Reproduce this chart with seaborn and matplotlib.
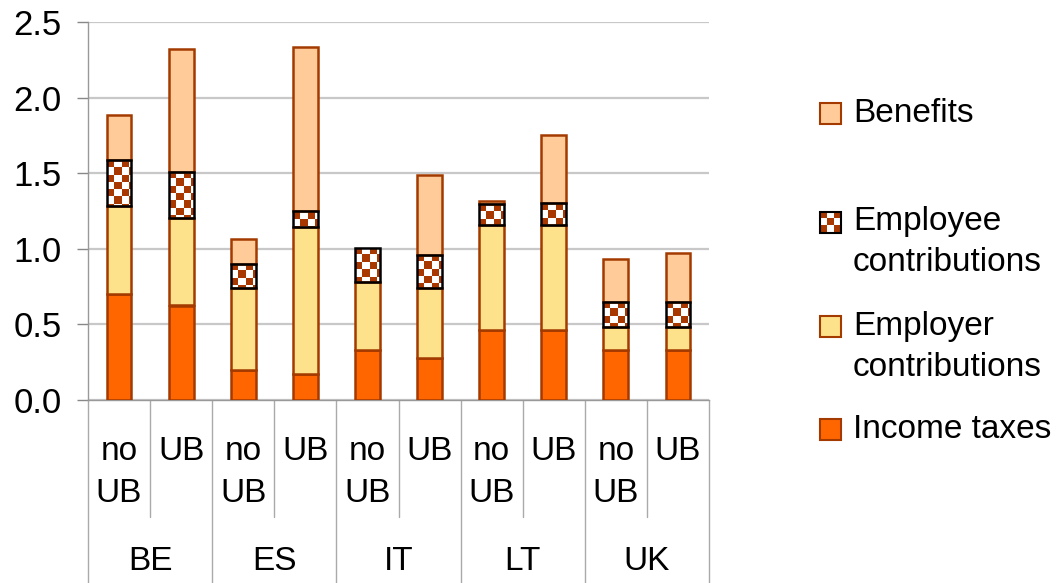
import numpy as np
import pandas as pd
import matplotlib
matplotlib.use("Agg")
import matplotlib.pyplot as plt
from matplotlib.colors import ListedColormap
from matplotlib.patches import Rectangle
import seaborn as sns

# ── Datos ─────────────────────────────────────────────────────────────────────
COUNTRIES = ["BE", "ES", "IT", "LT", "UK"]
SCENARIOS = ["no\nUB", "UB"]

income_taxes = [0.70, 0.625, 0.20, 0.17, 0.33, 0.275, 0.46, 0.46, 0.33, 0.33]
employer     = [0.585, 0.58, 0.54, 0.977, 0.45, 0.465, 0.70, 0.70, 0.15, 0.15]
employee     = [0.30, 0.305, 0.16, 0.10, 0.225, 0.22, 0.135, 0.14, 0.17, 0.17]
benefits     = [0.30, 0.81, 0.165, 1.087, 0.0, 0.53, 0.02, 0.45, 0.28, 0.32]

YTICKS = [0.0, 0.5, 1.0, 1.5, 2.0, 2.5]
YTICK_LABELS = ["0.0", "0.5", "1.0", "1.5", "2.0", "2.5"]

LEGEND_LABELS = ["Benefits", "Employee\ncontributions",
                 "Employer\ncontributions", "Income taxes"]

# ── Estilo ────────────────────────────────────────────────────────────────────
C_INCOME = "#ff6600"
C_EMPLOYER = "#fde28b"
C_BENEFITS = "#ffcc99"
C_EDGE = "#a33a00"
C_CHECK = "#a83800"
checker_cmap = ListedColormap([C_CHECK, "white"])

sns.set_style("white")
plt.rcParams["font.family"] = ["Liberation Sans", "DejaVu Sans"]
plt.rcParams["text.color"] = "black"
plt.rcParams["xtick.labelcolor"] = "black"
plt.rcParams["ytick.labelcolor"] = "black"

W, H = 1056, 583
fig = plt.figure(figsize=(W / 100, H / 100), dpi=100)
ax = fig.add_axes([88 / W, 1 - 400 / H, (709 - 88) / W, 378 / H])

slots = [f"{c} {s}" for c in COUNTRIES for s in ["noUB", "UB"]]
bar_w = 0.4

# capas de abajo hacia arriba
layers = [
    ("income", income_taxes, C_INCOME, C_EDGE),
    ("employer", employer, C_EMPLOYER, C_EDGE),
    ("employee", employee, "none", "black"),
    ("benefits", benefits, C_BENEFITS, C_EDGE),
]

bottom = np.zeros(len(slots))
employee_patches = []
for name, vals, face, edge in layers:
    vals = np.array(vals)
    df = pd.DataFrame({"slot": slots, "top": bottom + vals})
    sns.barplot(data=df, x="slot", y="top", order=slots, color=C_INCOME,
                width=bar_w, saturation=1, errorbar=None, ax=ax,
                edgecolor=edge, linewidth=1.8)
    cont = ax.containers[-1]
    for p, b, v in zip(cont, bottom, vals):
        p.set_y(b)
        p.set_height(v)
        p.set_facecolor(face)
        p.set_zorder(3)
        if v <= 0:
            p.set_visible(False)
        if name == "employee":
            employee_patches.append(p)
    bottom = bottom + vals

# cuadriculado para las contribuciones del empleado (celdas de ~7 px)
cell_h = 7.2 * 2.5 / 378
cell_w = 7.2 / 62
for p in employee_patches:
    x0, y0, h = p.get_x(), p.get_y(), p.get_height()
    nrows = int(np.ceil(h / cell_h))
    ncols = int(np.ceil(bar_w / cell_w))
    img = np.add.outer(np.arange(nrows), np.arange(ncols)) % 2
    top = y0 + h
    im = ax.imshow(img, cmap=checker_cmap,
                   extent=[x0, x0 + ncols * cell_w, top - nrows * cell_h, top],
                   origin="upper", aspect="auto", interpolation="nearest", zorder=2.5)
    im.set_clip_path(p)
    p.set_zorder(4)

ax.set_aspect("auto")
ax.set_xlim(-0.5, len(slots) - 0.5)
ax.set_ylim(0, 2.5)

# ── Ejes ──────────────────────────────────────────────────────────────────────
ax.set_xlabel("")
ax.set_ylabel("")
ax.set_yticks(YTICKS)
ax.set_yticklabels(YTICK_LABELS, fontsize=25)
ax.tick_params(axis="y", length=8, width=1, color="#888888", pad=11, left=True)
ax.set_xticks(range(len(slots)))
ax.set_xticklabels(SCENARIOS * len(COUNTRIES), fontsize=24, linespacing=1.45)
ax.tick_params(axis="x", length=0, pad=26)

ax.yaxis.grid(True, color="#c8c8c8", linewidth=1.6)
ax.set_axisbelow(True)
for side in ["top", "right"]:
    ax.spines[side].set_visible(False)
for side in ["left", "bottom"]:
    ax.spines[side].set_color("#999999")
    ax.spines[side].set_linewidth(1)

# separadores de categorías bajo el eje
trans = ax.get_xaxis_transform()
for i in range(len(slots) + 1):
    xb = i - 0.5
    y_end = -183 / 378 if i % 2 == 0 else -117 / 378
    ax.plot([xb, xb], [0, y_end], color="#aaaaaa", lw=1, transform=trans, clip_on=False)

for k, c in enumerate(COUNTRIES):
    ax.text(2 * k + 0.5, -162 / 378, c, transform=trans, ha="center", va="center",
            fontsize=24)

# ── Leyenda manual ────────────────────────────────────────────────────────────
lax = fig.add_axes([0, 0, 1, 1])
lax.axis("off")
legend_colors = [C_BENEFITS, None, C_EMPLOYER, C_INCOME]
square_y = [113, 222, 326, 429]
text_y = [113, 242, 347, 429]
for lab, col, sy, ty in zip(LEGEND_LABELS, legend_colors, square_y, text_y):
    if col is None:
        img = np.add.outer(np.arange(3), np.arange(3)) % 2
        lax.imshow(img, cmap=checker_cmap, extent=[820, 841, sy + 10.5, sy - 10.5],
                   origin="upper", aspect="auto", interpolation="nearest")
        lax.add_patch(Rectangle((820, sy - 10.5), 21, 21, facecolor="none",
                                edgecolor="black", lw=1.5))
    else:
        lax.add_patch(Rectangle((820, sy - 10.5), 21, 21, facecolor=col,
                                edgecolor=C_EDGE, lw=1.5))
    lax.text(853, ty, lab, ha="left", va="center", fontsize=24, linespacing=1.4)
lax.set_xlim(0, W)
lax.set_ylim(H, 0)
lax.set_aspect("auto")

fig.savefig("out.png", dpi=100)
